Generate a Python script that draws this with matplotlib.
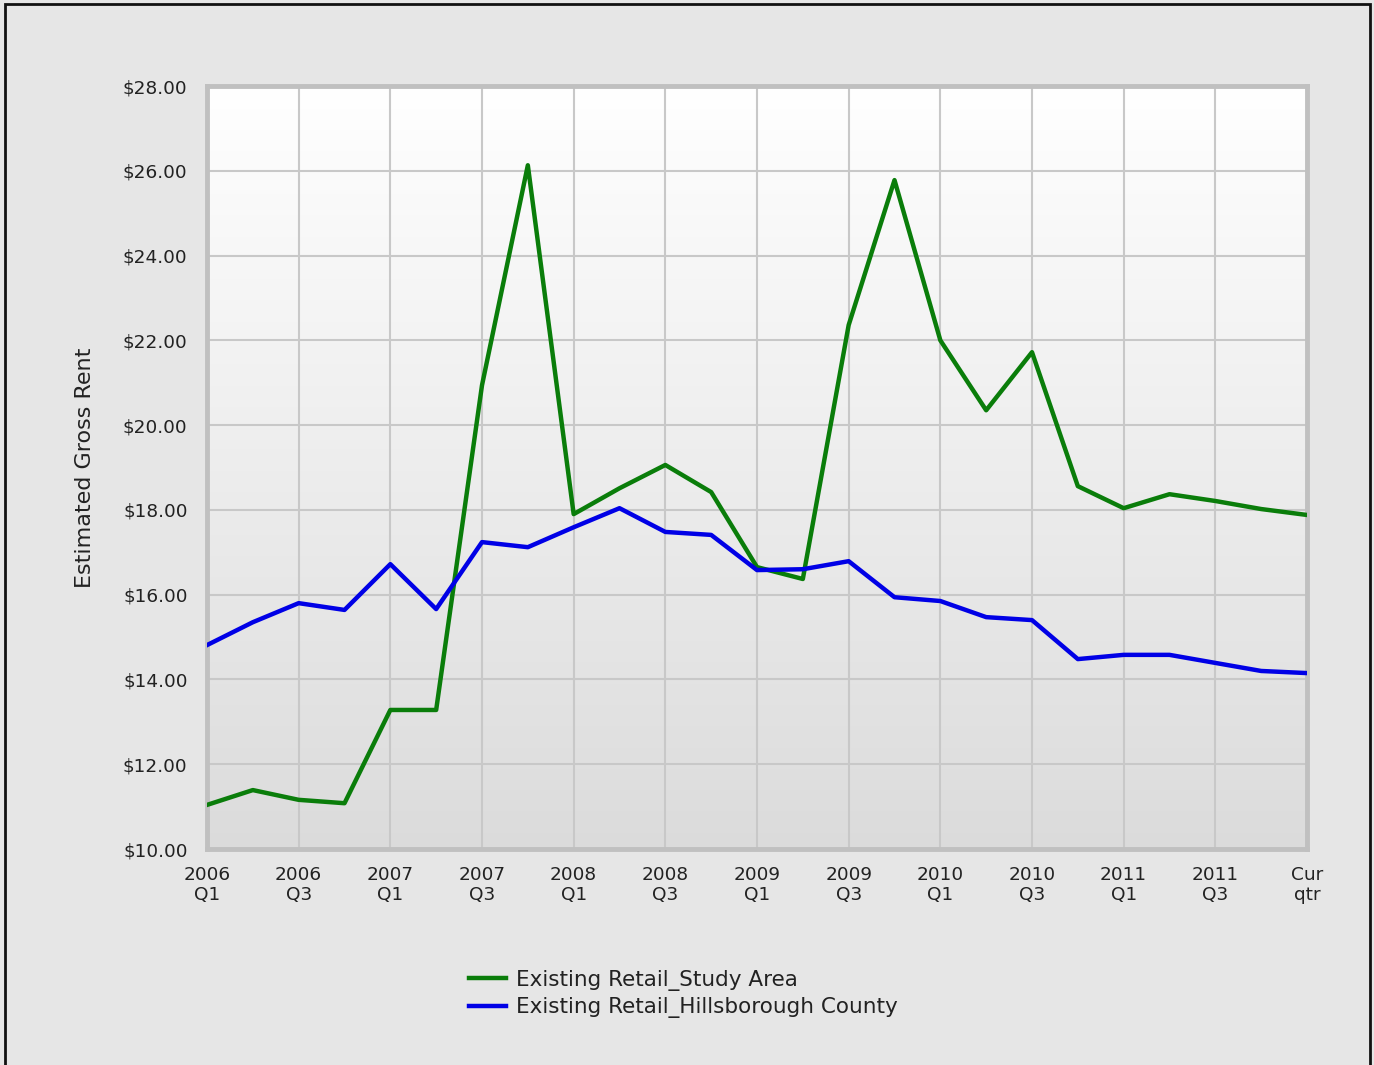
import numpy as np
import matplotlib.pyplot as plt
from matplotlib.patches import Rectangle

# quarters 2006 Q1 .. 2011 Q4 plus current quarter
quarters = list(range(25))
tick_labels = ["2006\nQ1", "2006\nQ3", "2007\nQ1", "2007\nQ3", "2008\nQ1", "2008\nQ3",
               "2009\nQ1", "2009\nQ3", "2010\nQ1", "2010\nQ3", "2011\nQ1", "2011\nQ3",
               "Cur\nqtr"]

study_area = [11.04, 11.39, 11.16, 11.08, 13.28, 13.28, 20.94, 26.13, 17.90, 18.51,
              19.06, 18.42, 16.65, 16.37, 22.36, 25.78, 22.00, 20.35, 21.72, 18.56,
              18.04, 18.37, 18.21, 18.02, 17.88]
hillsborough = [14.81, 15.35, 15.80, 15.64, 16.72, 15.66, 17.24, 17.12, 17.59, 18.04,
                17.48, 17.41, 16.58, 16.60, 16.79, 15.94, 15.85, 15.47, 15.40, 14.48,
                14.58, 14.58, 14.39, 14.20, 14.15]

fig = plt.figure(figsize=(13.74, 10.65), dpi=100)
fig.patch.set_facecolor("#e6e6e6")
# outer black frame
fig.patches.append(Rectangle((0.004, -0.01), 0.993, 1.006, transform=fig.transFigure,
                             fill=False, edgecolor="#111111", linewidth=2))

W, H = 1374, 1065
ax = fig.add_axes([207 / W, 1 - 849 / H, 1100 / W, 763 / H])

# vertical gradient background, white at top -> light grey at bottom
g = np.linspace(0.86, 1.0, 256)
grad = np.repeat(g[:, None, None], 3, axis=2)
ax.imshow(grad, extent=[0, 24, 10, 28], aspect="auto", zorder=0, origin="lower")

ax.plot(quarters, study_area, color="#0a7d0a", linewidth=3.2, zorder=3,
        label="Existing Retail_Study Area")
ax.plot(quarters, hillsborough, color="#0000e6", linewidth=3.2, zorder=3,
        label="Existing Retail_Hillsborough County")

ax.set_xlim(0, 24)
ax.set_ylim(10, 28)
ax.set_xticks(quarters[::2])
ax.set_xticklabels(tick_labels, fontsize=13.3, color="#222222", linespacing=1.15)
yt = np.arange(10, 29, 2)
ax.set_yticks(yt)
ax.set_yticklabels([f"${v:.2f}" for v in yt], fontsize=13.3, color="#222222")
ax.tick_params(length=0, pad=14)
ax.tick_params(axis="x", pad=12)
ax.grid(True, color="#c8c8c8", linewidth=1.5, zorder=1)
ax.set_axisbelow(True)
for s in ax.spines.values():
    s.set_color("#c0c0c0")
    s.set_linewidth(3.5)

ax.set_ylabel("Estimated Gross Rent", fontsize=16, color="#222222", labelpad=20)

leg = fig.legend(loc="upper left", bbox_to_anchor=(460 / W, 1 - 961 / H), frameon=False,
                 fontsize=15.5, handlelength=1.75, handletextpad=0.45, labelspacing=0.3,
                 borderaxespad=0)
for t in leg.get_texts():
    t.set_color("#222222")

fig.savefig("out.png", dpi=100, facecolor=fig.get_facecolor())
